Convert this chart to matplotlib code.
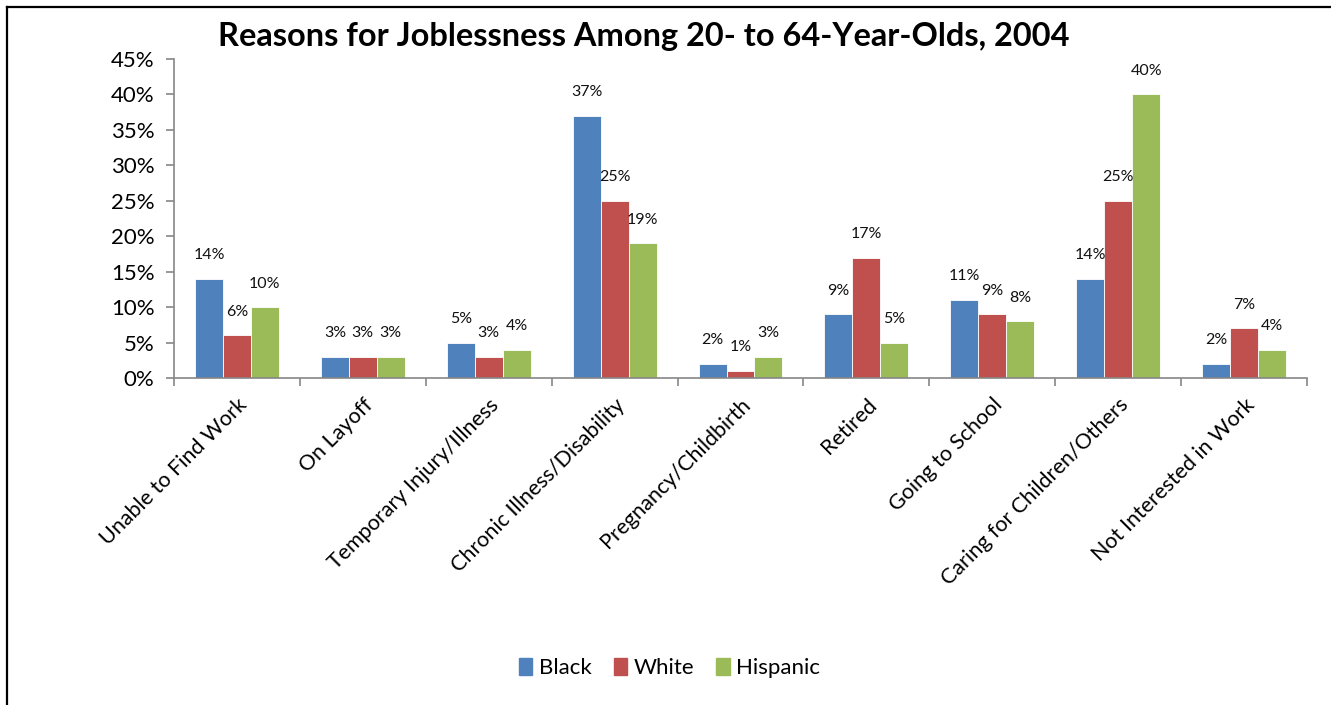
import numpy as np
import matplotlib; matplotlib.use("Agg")
import matplotlib.pyplot as plt
from matplotlib.lines import Line2D
from matplotlib.patches import Patch

plt.rcParams['font.family'] = ['Lato', 'DejaVu Sans']

categories = ["Unable to Find Work", "On Layoff", "Temporary Injury/Illness",
              "Chronic Illness/Disability", "Pregnancy/Childbirth", "Retired",
              "Going to School", "Caring for Children/Others", "Not Interested in Work"]
black = [14, 3, 5, 37, 2, 9, 11, 14, 2]
white = [6, 3, 3, 25, 1, 17, 9, 25, 7]
hispanic = [10, 3, 4, 19, 3, 5, 8, 40, 4]
series = [("Black", black, "#4F81BD"), ("White", white, "#C0504D"), ("Hispanic", hispanic, "#9BBB59")]
yticks = [0, 5, 10, 15, 20, 25, 30, 35, 40, 45]

fig = plt.figure(figsize=(13.31, 7.05), dpi=100)
ax = fig.add_axes([0.1307, 0.4638, 0.8513, 0.4525])

x = np.arange(len(categories))
w = 0.222
for i, (name, vals, col) in enumerate(series):
    pos = x + (i - 1) * w
    ax.bar(pos, vals, w, color=col, edgecolor="white", lw=0.6, label=name, zorder=2)
    for p, v in zip(pos, vals):
        ax.annotate(f"{v}%", (p, v), xytext=(0, 17), textcoords="offset points",
                    ha="center", va="center", fontsize=11.5, color="#111")

ax.set_xlim(-0.5, len(categories) - 0.5)
ax.set_ylim(0, 45)
ax.set_yticks(yticks)
ax.set_yticklabels([f"{t}%" for t in yticks], fontsize=16)
ax.set_xticks(x)
ax.set_xticklabels(categories, rotation=45, ha="right", rotation_mode="anchor", fontsize=15.5)
ax.tick_params(axis="x", length=0, pad=12)
ax.set_xticks(np.arange(-0.5, len(categories)), minor=True)
ax.tick_params(axis="x", which="minor", length=6, color="#868686", width=1.2)
ax.tick_params(axis="y", length=6, color="#868686", width=1.2, pad=8)
for s in ["top", "right"]:
    ax.spines[s].set_visible(False)
for s in ["left", "bottom"]:
    ax.spines[s].set_color("#868686")
    ax.spines[s].set_linewidth(1.2)

fig.text(0.484, 0.948, "Reasons for Joblessness Among 20- to 64-Year-Olds, 2004",
         ha="center", va="center", fontsize=23.4, fontweight="bold")

handles = [Patch(color=c, label=n) for n, _, c in series]
fig.legend(handles=handles, loc="center", bbox_to_anchor=(0.503, 0.052), ncol=3,
           frameon=False, fontsize=16, handlelength=0.6, handleheight=0.8,
           handletextpad=0.3, columnspacing=1.0)

# outer frame: left and top edges
fig.add_artist(Line2D([0.0055, 0.0055], [0, 0.990], color="black", lw=1.6, transform=fig.transFigure))
fig.add_artist(Line2D([0.0055, 1.0], [0.990, 0.990], color="black", lw=1.6, transform=fig.transFigure))

fig.savefig("out.png", dpi=100)
